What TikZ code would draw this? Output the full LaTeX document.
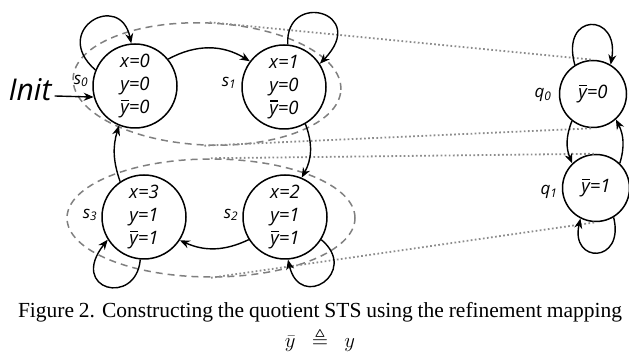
\documentclass[tikz,border=0pt]{standalone}
\usepackage{fontspec}
\usepackage{amssymb}
\setmainfont{Liberation Serif}
\newfontfamily\nodefont{Open Sans}
\usetikzlibrary{arrows.meta,shapes.geometric}
\newcommand\ybar{\makebox[0pt][l]{\hspace{0.06em}\rule[0.66em]{0.42em}{0.09em}}y}
\begin{document}
\begin{tikzpicture}[x=1pt,y=1pt,
  state/.style={circle, draw, fill=white, line width=1.5pt, minimum size=84pt, inner sep=0pt,
    font=\nodefont\itshape\fontsize{18.5}{23}\selectfont, align=center},
  qstate/.style={state, minimum size=67pt},
  lbl/.style={font=\nodefont\itshape\fontsize{17}{17}\selectfont, inner sep=0pt},
  edge/.style={line width=1.4pt, -{Stealth[length=10pt,width=8pt]}},
  grp/.style={ellipse, draw=gray, dash pattern=on 7pt off 5pt, line width=1.5pt, inner sep=0pt},
  map/.style={draw=gray!90, line width=1.8pt, dash pattern=on 1.7pt off 2.4pt}]
\useasboundingbox (0,0) rectangle (629,352);

% groups
\node[grp, minimum width=268pt, minimum height=122pt, rotate=-2.5] (E1) at (207,268) {};
\node[grp, minimum width=288pt, minimum height=118pt] (E2) at (211,134) {};

% states
\node[state] (s0) at (135,266) {x=0\\y=0\\\ybar=0};
\node[state] (s1) at (284,265) {x=1\\y=0\\\ybar=0};
\node[state] (s3) at (144,135) {x=3\\y=1\\\ybar=1};
\node[state] (s2) at (285,135) {x=2\\y=1\\\ybar=1};
\node[qstate] (q0) at (593,258) {\ybar=0};
\node[qstate] (q1) at (596,164) {\ybar=1};

% mapping lines
\draw[map] (E1.north) -- (q0.north);
\draw[map] (E1.south) -- (q0.south);
\draw[map] (E2.north) -- (q1.north);
\draw[map] (E2.south) -- (q1.south);

% labels
\node[lbl] (l0) at (81,271) {s\textsubscript{0}};
\node[lbl] (l1) at (229,269) {s\textsubscript{1}};
\node[lbl] (l3) at (90,137) {s\textsubscript{3}};
\node[lbl] (l2) at (231,137) {s\textsubscript{2}};
\node[lbl] (lq0) at (543,257) {q\textsubscript{0}};
\node[lbl] (lq1) at (549,160) {q\textsubscript{1}};

% init
\node[font=\nodefont\itshape\fontsize{30}{30}\selectfont, inner sep=3pt] (init) at (30,262) {Init};
\draw[edge] ([yshift=-6pt]init.east) -- (s0.195);

% transitions
\draw[edge] (s0.39) to[bend left=30] (s1.143);
\draw[edge] (s1.-60) to[bend left=25] (s2.67);
\draw[edge] (s2.212) to[bend left=25] (s3.-33);
\draw[edge] (s3.124) to[bend left=18] (s0.248);
\draw[edge] (q0.232) to[bend right=22] (q1.134);
\draw[edge] (q1.46) to[bend right=22] (q0.312);

% self loops
\draw[edge] (s0.158) .. controls (50,322) and (120,362) .. (s0.95);
\draw[edge] (s1.85) .. controls (285,362) and (370,340) .. (s1.33);
\draw[edge] (s3.265) .. controls (136,45) and (68,62) .. (s3.212);
\draw[edge] (s2.328) .. controls (360,80) and (300,40) .. (s2.274);
\draw[edge] (q0.122) .. controls (560,340) and (620,340) .. (q0.59);
\draw[edge] (q1.-59) .. controls (625,88) and (570,88) .. (q1.-117);

% caption
\node[font=\fontsize{21.5}{24}\selectfont, inner sep=0pt] (cap1) at (320,40)
  {\makebox[604pt][s]{Figure 2. Constructing the quotient STS using the refinement mapping}};
\node[font=\fontsize{21}{24}\selectfont, inner sep=0pt] (cap2) at (320,12) {$\bar{y}\ \ \triangleq\ \ y$};
\end{tikzpicture}
\end{document}
